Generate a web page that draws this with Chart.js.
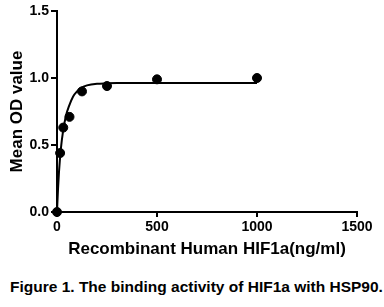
<!DOCTYPE html>
<html lang="en">
<head>
    <meta charset="UTF-8">
    <title>HIF1a binding</title>
    <style>
        body {
            margin: 0;
            background: #fff;
            font-family: Arial, "Liberation Sans", sans-serif;
        }
        #wrap {
            position: relative;
            width: 384px;
            height: 265px;
        }
        #caption {
            position: absolute;
            left: 10px;
            top: 278px;
            font-weight: bold;
            font-size: 15.5px;
            color: #000;
            white-space: nowrap;
        }
    </style>
</head>
<body>
    <div id="wrap"><canvas id="chart"></canvas></div>
    <div id="caption">Figure 1. The binding activity of HIF1a with HSP90.</div>

    <script src="https://cdn.jsdelivr.net/npm/chart.js"></script>
    <script>
        // measured points
        const concentrations = [0, 15.6, 31.25, 62.5, 125, 250, 500, 1000];
        const meanOD = [0, 0.44, 0.63, 0.71, 0.90, 0.94, 0.99, 1.00];

        // fitted curve
        const curveX = [0, 5, 10, 20, 30, 45, 60, 80, 100, 125, 150, 200, 250, 300, 400, 1000];
        const curveY = [0, 0.17, 0.30, 0.48, 0.60, 0.72, 0.79, 0.86, 0.90, 0.93, 0.945, 0.957, 0.96, 0.962, 0.963, 0.963];

        const xTicks = [0, 500, 1000, 1500];
        const yTicks = [0, 0.5, 1.0, 1.5];

        const tickFont = { family: 'Arial, "Liberation Sans"', size: 14, weight: 'bold' };
        const titleFont = { family: 'Arial, "Liberation Sans"', size: 17, weight: 'bold' };

        new Chart(document.getElementById('chart'), {
            type: 'scatter',
            data: {
                datasets: [
                    {
                        label: 'Mean OD',
                        data: concentrations.map((x, i) => ({ x: x, y: meanOD[i] })),
                        pointRadius: 4.5,
                        pointBackgroundColor: '#000',
                        pointBorderColor: '#000',
                        showLine: false,
                        clip: false
                    },
                    {
                        label: 'Fit',
                        data: curveX.map((x, i) => ({ x: x, y: curveY[i] })),
                        showLine: true,
                        pointRadius: 0,
                        borderColor: '#000',
                        borderWidth: 2,
                        cubicInterpolationMode: 'monotone',
                        clip: false
                    }
                ]
            },
            options: {
                responsive: true,
                maintainAspectRatio: false,
                animation: false,
                layout: { padding: { left: 0, top: 11, right: 27, bottom: 0 } },
                plugins: {
                    legend: { display: false },
                    tooltip: { enabled: false }
                },
                scales: {
                    x: {
                        type: 'linear',
                        min: 0,
                        max: 1500,
                        afterBuildTicks: s => { s.ticks = xTicks.map(v => ({ value: v })); },
                        afterFit: s => { s.height = 53; },
                        ticks: { color: '#000', font: tickFont, padding: 2, maxRotation: 0, callback: v => String(v) },
                        grid: { drawOnChartArea: false, drawTicks: true, tickLength: 5, color: '#000', lineWidth: 2 },
                        border: { color: '#000', width: 2 },
                        title: {
                            display: true,
                            text: 'Recombinant Human HIF1a(ng/ml)',
                            color: '#000',
                            font: titleFont,
                            padding: { top: 0, bottom: 5 }
                        }
                    },
                    y: {
                        type: 'linear',
                        min: 0,
                        max: 1.5,
                        afterBuildTicks: s => { s.ticks = yTicks.map(v => ({ value: v })); },
                        afterFit: s => { s.width = 57; },
                        ticks: { color: '#000', font: tickFont, padding: 2, callback: v => v.toFixed(1) },
                        grid: { drawOnChartArea: false, drawTicks: true, tickLength: 6, color: '#000', lineWidth: 2 },
                        border: { color: '#000', width: 2 },
                        title: {
                            display: true,
                            text: 'Mean OD value',
                            color: '#000',
                            font: titleFont,
                            padding: { top: 7, bottom: 0 }
                        }
                    }
                }
            }
        });
    </script>
</body>
</html>
